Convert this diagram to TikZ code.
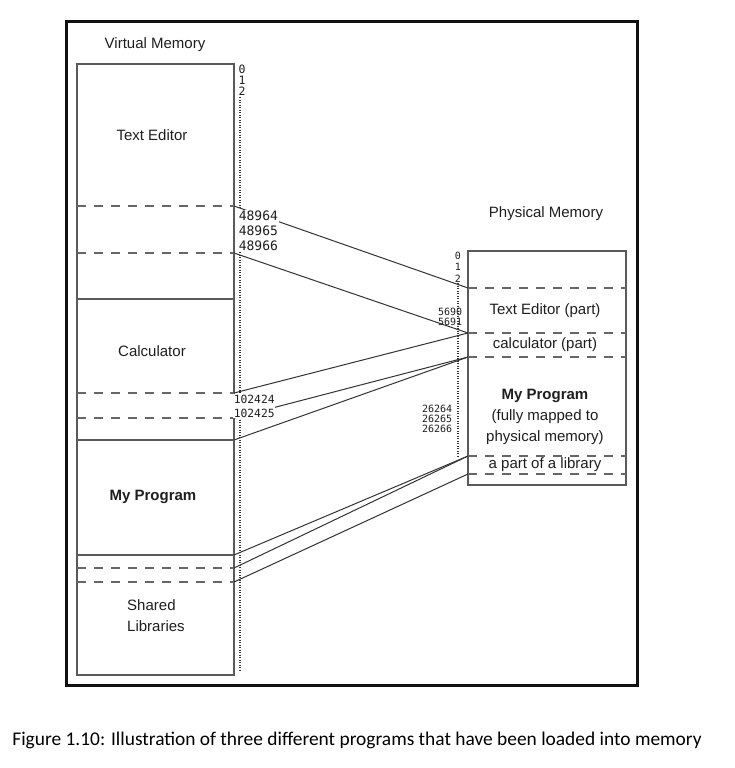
\documentclass[tikz,border=0pt]{standalone}
\usepackage{fontspec}
\setmainfont{Liberation Sans}
\newfontfamily\capfont{Carlito}
\newfontfamily\addrfont{DejaVu Sans Mono}
\definecolor{framegray}{HTML}{111111}
\definecolor{boxgray}{HTML}{5A5A5A}
\definecolor{dashgray}{HTML}{666666}
\definecolor{linegray}{HTML}{333333}
\definecolor{textgray}{HTML}{1E1E1E}
\tikzset{
  outerframe/.style={draw=framegray, line width=3pt},
  membox/.style={draw=boxgray, line width=1.2pt},
  solidsplit/.style={draw=boxgray, line width=1.2pt},
  dashsplit/.style={draw=dashgray, line width=1.2pt, dash pattern=on 9pt off 8pt},
  addrline/.style={draw=linegray, line width=1.2pt, dash pattern=on 1pt off 1.5pt},
  mapline/.style={draw=linegray, line width=1pt},
  memtext/.style={text=textgray, font=\fontsize{15}{21}\selectfont, inner sep=0pt, align=center},
  addr/.style={text=textgray, inner sep=0.6pt, fill=white}
}

\begin{document}
\begin{tikzpicture}[x=1pt,y=-1pt]
  \path[use as bounding box] (0,0) rectangle (735,768);

  \draw[outerframe] (66,22) rectangle (637,685);

  % virtual side
  \coordinate (vte-a) at (234,206);
  \coordinate (vte-b) at (234,253);
  \coordinate (vcalc-top) at (234,299);
  \coordinate (vcalc-a) at (234,393);
  \coordinate (vcalc-b) at (234,418);
  \coordinate (vprog-top) at (234,440);
  \coordinate (vprog-bot) at (234,555);
  \coordinate (vlib-a) at (234,568);
  \coordinate (vlib-b) at (234,582);

  \node[memtext] (vtitle) at (155,45) {Virtual Memory};
  \draw[addrline] (240,97) -- (240,672);
  \draw[membox] (77,64) rectangle (234,675);
  \draw[dashsplit] (77,206) -- (vte-a);
  \draw[dashsplit] (77,253) -- (vte-b);
  \draw[solidsplit] (77,299) -- (vcalc-top);
  \draw[dashsplit] (77,393) -- (vcalc-a);
  \draw[dashsplit] (77,418) -- (vcalc-b);
  \draw[solidsplit] (77,440) -- (vprog-top);
  \draw[solidsplit] (77,555) -- (vprog-bot);
  \draw[dashsplit] (77,568) -- (vlib-a);
  \draw[dashsplit] (77,582) -- (vlib-b);

  \node[memtext] (vte) at (152,135) {Text Editor};
  \node[memtext] (vcalc) at (152,351) {Calculator};
  \node[memtext, font=\fontsize{15}{21}\selectfont\bfseries] (vprog) at (153,497) {My Program};
  \node[memtext, align=left] (vlib) at (156,616) {Shared\\Libraries};

  % physical side
  \coordinate (pte-top) at (468,288);
  \coordinate (pcalc-top) at (468,333);
  \coordinate (pcalc-bot) at (468,357);
  \coordinate (plib-top) at (468,456);
  \coordinate (plib-bot) at (468,474);

  \node[memtext] (ptitle) at (546,214) {Physical Memory};
  \draw[addrline] (458,283) -- (458,458);
  \draw[membox] (468,251) rectangle (626,485);
  \draw[dashsplit] (pte-top) -- (626,288);
  \draw[dashsplit] (pcalc-top) -- (626,333);
  \draw[dashsplit] (pcalc-bot) -- (626,357);
  \draw[dashsplit] (plib-top) -- (626,456);
  \draw[dashsplit] (plib-bot) -- (626,474);

  \node[memtext] (pte) at (545,311) {Text Editor (part)};
  \node[memtext] (pcalc) at (545,345) {calculator (part)};
  \node[memtext] (pprog) at (545,417) {\textbf{My Program}\\(fully mapped to\\physical memory)};
  \node[memtext] (plib) at (545,465) {a part of a library};

  % mappings
  \draw[mapline] (vte-a) -- (pte-top);
  \draw[mapline] (vte-b) -- (pcalc-top);
  \draw[mapline] (vcalc-a) -- (pcalc-top);
  \draw[mapline] (vcalc-b) -- (pcalc-bot);
  \draw[mapline] (vprog-top) -- (pcalc-bot);
  \draw[mapline] (vprog-bot) -- (plib-top);
  \draw[mapline] (vlib-a) -- (plib-top);
  \draw[mapline] (vlib-b) -- (plib-bot);

  % addresses
  \node[addr, align=center, font=\addrfont\fontsize{11.5}{11}\selectfont] (vzero) at (242,80) {0\\1\\2};
  \node[addr, align=left, anchor=west, font=\addrfont\fontsize{13}{15}\selectfont] (vte-addr) at (238,231) {48964\\48965\\48966};
  \node[addr, align=left, anchor=west, font=\addrfont\fontsize{11.3}{14}\selectfont] (vcalc-addr) at (233,406) {102424\\102425};
  \node[addr, align=center, fill=none, font=\addrfont\fontsize{10}{11.5}\selectfont] (pzero) at (458,267) {0\\1\\2};
  \node[addr, align=right, anchor=east, fill=none, font=\addrfont\fontsize{10}{10}\selectfont] (pte-addr) at (463,317) {5690\\5691};
  \node[addr, align=right, anchor=east, font=\addrfont\fontsize{10}{10}\selectfont] (pprog-addr) at (453,419) {26264\\26265\\26266};

  \node[font=\capfont\fontsize{19.4}{22}\selectfont] (caption) at (357,740)
    {Figure 1.10: Illustration of three different programs that have been loaded into memory};
\end{tikzpicture}
\end{document}
